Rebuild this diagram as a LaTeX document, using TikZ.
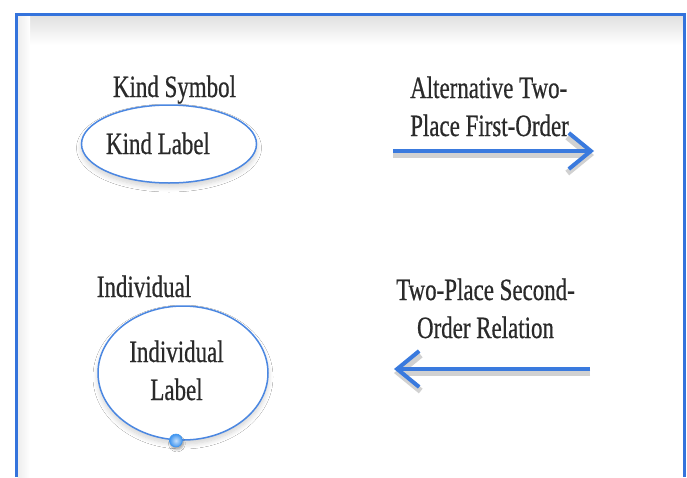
\documentclass[tikz,border=0pt]{standalone}
\usepackage{fontspec}
\setmainfont{Liberation Serif}[FakeStretch=0.74,FakeBold=0.6]
\usepackage{xcolor}
\definecolor{FrameBlue}{HTML}{3473DC}
\definecolor{ArrowBlue}{HTML}{3A7ADE}
\definecolor{LineBlue}{HTML}{4B87E1}
\definecolor{DotBlue}{HTML}{3F95F0}
\definecolor{TextGrey}{HTML}{2A2A2A}
\usepackage{tikz}
\usetikzlibrary{arrows.meta,shapes.geometric,shadows.blur,positioning}
\newcommand\TextSize{31}
\newcommand\TextSkip{38}
\tikzstyle{caption}=[inner sep=0pt,anchor=base,text=TextGrey,
                     font=\fontsize{\TextSize}{\TextSkip}\selectfont]
\tikzstyle{oval}=[ellipse,draw=LineBlue,line width=1.5pt,fill=white,inner sep=0pt,
                     blur shadow={shadow xshift=0pt,shadow yshift=-4pt,shadow blur radius=5pt,
                                  shadow blur steps=8,shadow opacity=18}]
\tikzstyle{knob}=[circle,inner sep=0pt,minimum size=13pt,draw=DotBlue,line width=0.6pt,
                     inner color=DotBlue!30!white,outer color=DotBlue,
                     blur shadow={shadow xshift=1pt,shadow yshift=-3pt,shadow opacity=30}]
\tikzstyle{relarrow}=[draw=ArrowBlue,line width=4pt,-{Straight Barb[length=22pt,width=36pt]},
                     preaction={draw=black!18,line width=6pt,transform canvas={yshift=-4pt}}]
\tikzstyle{frame}=[draw=FrameBlue,line width=3pt]

\begin{document}
\begin{tikzpicture}[x=1pt,y=-1pt]
      \useasboundingbox[fill=white] (0,0) rectangle (687,477);
      % window frame
      \shade[top color=black!12,bottom color=white] (17.5,15.5) rectangle (682.5,45);
      \shade[left color=black!7,right color=white] (17.5,15.5) rectangle (30,477);
      \draw[frame] (16,477) |- (684,14) -- (684,477);
      % kind
      \node[caption] (kindsym) at (174.5,97) {Kind Symbol};
      \node[oval,minimum width=175pt,minimum height=78pt] (kind) at (169,144) {};
      \node[caption] (kindlbl) at (158,154) {Kind Label};
      % individual (base = last line)
      \node[caption] (indsym) at (144,297) {Individual};
      \node[oval,minimum width=170pt,minimum height=134pt] (ind) at (183,373) {};
      \node[caption,align=center] (indlbl) at (176.5,400) {Individual\\Label};
      \node[knob] (indknob) at (ind.-96) {};
      % relations
      \node[caption,anchor=base west,align=left] (fwdlbl) at (410,136) {Alternative Two-\\Place First-Order};
      \coordinate (fwdtail) at (393,151);
      \coordinate (fwdhead) at (594,151);
      \draw[relarrow] (fwdtail) -- (fwdhead);
      \node[caption,align=center] (bwdlbl) at (485.5,338) {Two-Place Second-\\Order Relation};
      \coordinate (bwdtail) at (590,369);
      \coordinate (bwdhead) at (394,369);
      \draw[relarrow] (bwdtail) -- (bwdhead);
   \end{tikzpicture}
\end{document}
